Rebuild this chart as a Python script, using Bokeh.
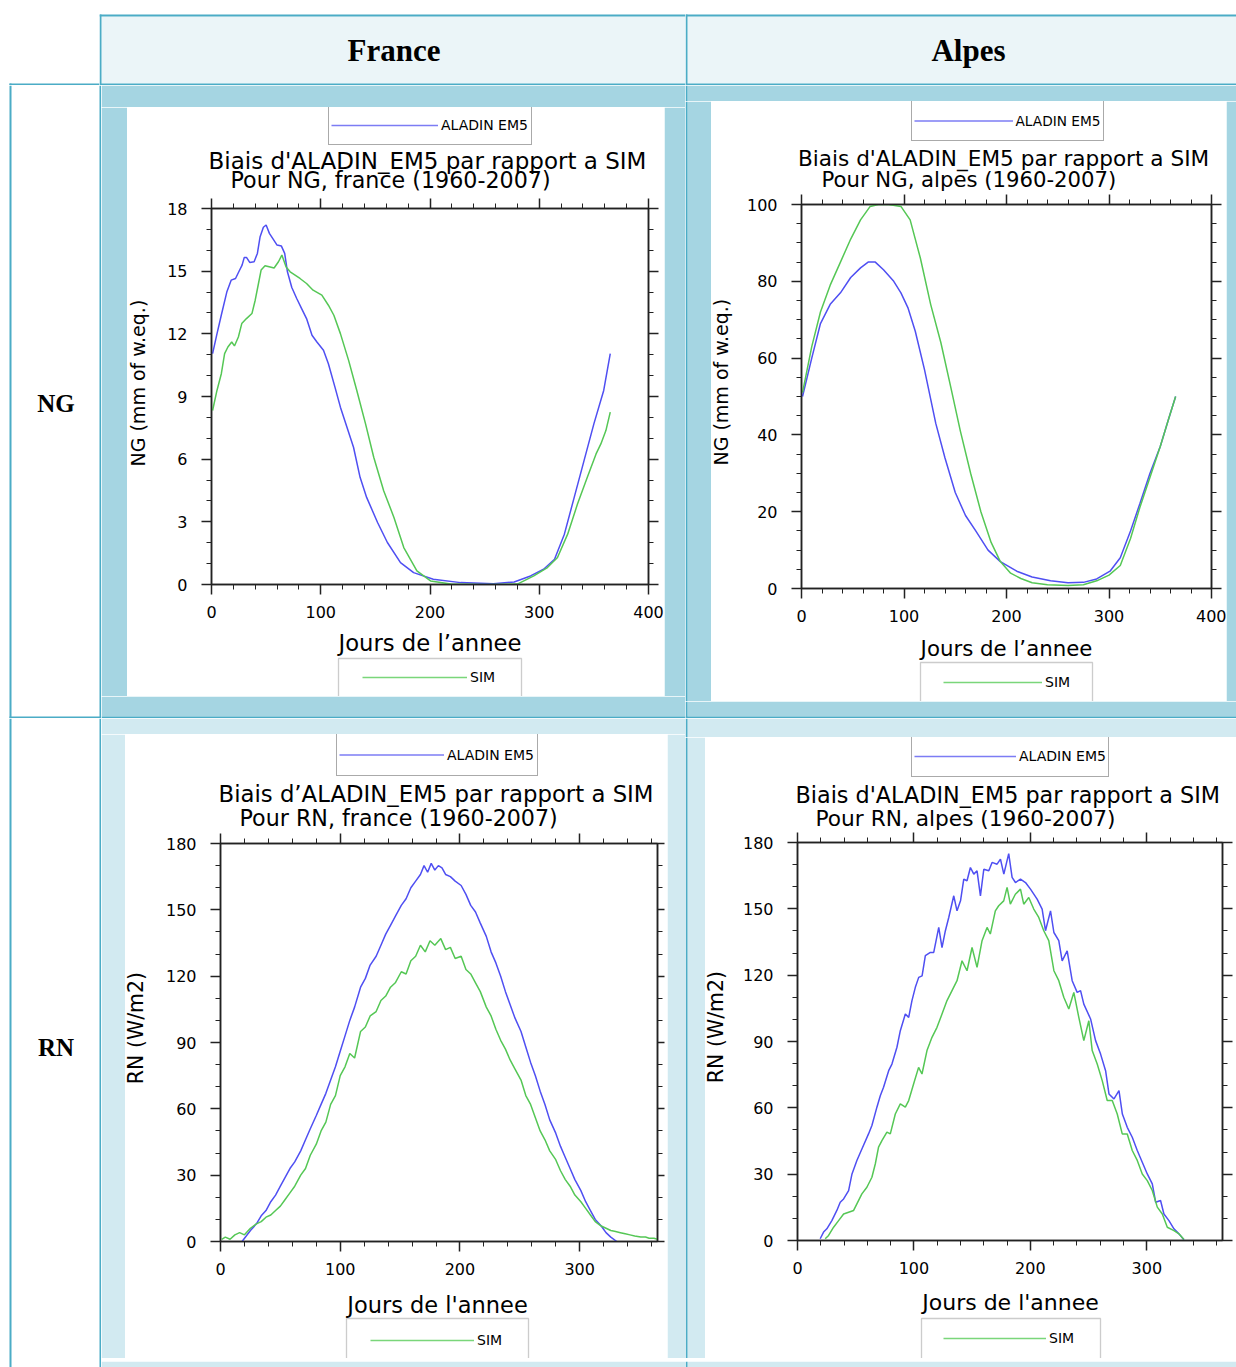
import math
from bokeh.plotting import figure
from bokeh.layouts import row, column
from bokeh.models import Range1d, LinearAxis, FixedTicker, Legend, LegendItem, BoxAnnotation
from bokeh.core.properties import value
from bokeh.embed import file_html
from bokeh.resources import INLINE
from bokeh.core.validation import silence
from bokeh.core.validation.warnings import MISSING_RENDERERS

silence(MISSING_RENDERERS, True)

# ---------------- data ----------------
COL_NAMES = ["France", "Alpes"]
ROW_NAMES = ["NG", "RN"]
SERIES = ["ALADIN EM5", "SIM"]

NG_TICKS = [0, 3, 6, 9, 12, 15, 18]
NGA_TICKS = [0, 20, 40, 60, 80, 100]
RN_TICKS = [0, 30, 60, 90, 120, 150, 180]
DAY_TICKS_400 = [0, 100, 200, 300, 400]
DAY_TICKS_365 = [0, 100, 200, 300]

# NG France
NGF_DAY_ALADIN = [1, 5, 9, 14, 18, 22, 25, 28, 30, 32, 35, 39, 42, 44.5, 47.5, 50, 53, 56, 60, 64, 67, 69.5, 73.5, 78,
                  82.5, 87, 92, 96.5, 102.5, 107, 113, 118, 124, 130, 136, 142, 152, 161, 173, 185, 203, 228, 258,
                  277, 292, 304, 314, 323, 332, 341, 350, 359, 365]
NGF_VAL_ALADIN = [11.05, 12.0, 12.9, 14.0, 14.57, 14.65, 14.97, 15.29, 15.66, 15.66, 15.42, 15.45, 15.85, 16.65, 17.1,
                  17.21, 16.81, 16.57, 16.25, 16.2, 15.85, 14.97, 14.22, 13.69, 13.21, 12.73, 11.93, 11.61, 11.21,
                  10.57, 9.45, 8.49, 7.53, 6.57, 5.13, 4.17, 2.97, 2.01, 1.05, 0.57, 0.25, 0.09, 0.04, 0.12, 0.41,
                  0.73, 1.21, 2.41, 4.17, 5.93, 7.69, 9.29, 11.05]
NGF_DAY_SIM = [1, 5, 9, 12, 15, 18.5, 21, 24.6, 27.7, 32, 37, 40, 43, 45.4, 49, 53.7, 57.3, 61.3, 64.4, 68.3, 72, 81,
               87, 93, 101, 107, 112, 118, 125.5, 133, 141, 148.5, 157.6, 167, 176, 188, 200.5, 219, 249, 280, 295,
               307.5, 316.7, 326, 335, 344, 352, 356.4, 361, 365]
NGF_VAL_SIM = [8.33, 9.29, 10.09, 11.05, 11.37, 11.61, 11.42, 11.85, 12.49, 12.73, 12.97, 13.61, 14.41, 15.05, 15.26,
               15.2, 15.15, 15.45, 15.77, 15.2, 14.97, 14.65, 14.41, 14.09, 13.85, 13.37, 12.89, 12.01, 10.73, 9.29,
               7.69, 6.09, 4.49, 3.21, 1.77, 0.65, 0.17, 0.02, 0.0, 0.02, 0.41, 0.81, 1.29, 2.41, 3.85, 5.13, 6.25,
               6.73, 7.37, 8.25]

# NG Alpes
NGA_DAY_ALADIN = [1, 10, 18.5, 28, 38, 48, 57.6, 65, 72, 80, 90, 97, 104, 111, 120, 131, 140, 150, 160, 170, 182, 194,
                  210, 225, 243, 260, 275, 288, 301, 311, 321, 330, 340, 350, 358, 365]
NGA_VAL_ALADIN = [50, 60, 69, 74, 77, 81, 83.5, 85, 85, 83, 80, 77, 73, 67, 57, 43, 34, 25, 19, 15, 10, 7, 4.5, 3, 2,
                  1.5, 1.6, 2.5, 4.5, 8, 15, 22, 30, 37, 44, 50]
NGA_DAY_SIM = [1, 10, 18.5, 28, 38, 48, 57.6, 67, 75, 85, 97, 106, 116, 126, 136, 146, 155, 165, 175, 185, 194, 204,
               214, 225, 240, 260, 275, 288, 300, 311, 321, 330, 340, 350, 358, 365]
NGA_VAL_SIM = [51, 63, 72, 79, 85, 91, 96, 99.5, 100, 100, 99.5, 96, 86, 74, 64, 52, 41, 30, 20, 12, 7, 4, 2.6, 1.5,
               1, 0.8, 1, 2, 3.5, 6, 13, 21, 29, 37, 44, 50]

# RN France
RNF_DAY_ALADIN = [18, 25, 30, 34, 38, 42, 46, 50, 54, 58, 62, 67, 71, 75, 80, 84, 88, 92, 96, 100, 104, 108, 112, 117,
                  121, 125, 130, 134, 138, 142, 146, 151, 155, 159, 163, 167, 170, 173, 176, 179, 182, 185, 188,
                  192, 196, 201, 205, 209, 213, 217, 222, 226, 230, 234, 238, 242, 246, 251, 255, 259, 263, 267, 271,
                  275, 280, 284, 288, 292, 296, 301, 305, 309, 313, 318, 322, 326, 331]
RNF_VAL_ALADIN = [0, 5, 8, 11.6, 14, 18, 21, 25, 29, 33, 36, 41, 46, 51, 57, 62, 67, 73, 79, 86, 93, 100, 106, 115,
                  119, 125, 129, 134, 139, 143, 147, 152, 155, 160, 163, 166, 170, 167, 171, 168, 170, 169, 166,
                  165, 163, 161, 157, 152, 149, 144, 138, 131, 126, 120, 113, 107, 101, 95, 88, 81, 75, 68, 62, 55,
                  49, 43, 38, 33, 28, 23, 18, 14, 10, 7, 4, 2, 0]
RNF_DAY_SIM = [1, 4, 8, 12, 16, 20, 25, 30, 34, 38, 42, 46, 50, 54, 58, 62, 67, 71, 75, 80, 84, 88, 92, 96, 100, 104,
               108, 112, 117, 121, 125, 130, 134, 138, 142, 146, 151, 155, 159, 163, 167, 171, 175, 179, 184, 188,
               192, 196, 201, 205, 209, 213, 217, 222, 226, 230, 234, 238, 242, 246, 251, 255, 259, 263, 267, 271,
               275, 280, 284, 288, 292, 296, 301, 305, 309, 313, 318, 322, 326, 330, 334, 338, 342, 346, 351, 355,
               358, 362, 365]
RNF_VAL_SIM = [1, 2, 1, 3, 4, 3, 6, 8, 9, 11, 12, 14, 16, 19, 22, 25, 30, 33, 39, 44, 50, 54, 62, 66, 75, 79, 85, 83,
               95, 97, 102, 104, 109, 111, 115, 117, 122, 121, 127, 129, 134, 131, 136, 134, 137, 132, 133, 128, 129,
               123, 121, 117, 113, 106, 102, 96, 91, 87, 82, 78, 73, 66, 62, 56, 50, 46, 41, 37, 32, 28, 25, 21,
               18, 15, 12, 9, 7, 6, 5, 4.5, 4, 3.5, 3, 2.5, 2, 2, 1.5, 1.5, 1]

# RN Alpes
RNA_DAY_ALADIN = [19.5, 22.4, 25.2, 29.5, 33.8, 36.7, 39.6, 43.9, 46.8, 51, 55.3, 61, 63.9, 68.2, 71.1, 73.9, 78.3,
                  81.1, 85.4, 88.3, 92.6, 95.5, 98.3, 101.2, 104.1, 107, 109.8, 114.1, 117, 121.3, 124.1, 127, 129.9,
                  134.2, 137, 140, 142.8, 145.6, 148.5, 151.4, 154.2, 157.1, 160, 164.3, 167.1, 171.4, 174.3, 177.2,
                  181.4, 184.3, 187.2, 191.5, 195.8, 200.1, 205.8, 210.1, 213, 217.3, 220.2, 224.4, 227.3, 231.6,
                  235.9, 240.2, 243.1, 245.9, 251.7, 256, 260.3, 264.6, 267.5, 271.8, 276.1, 279, 283.2, 287.5, 291.8,
                  296.1, 300.4, 304.7, 307.6, 311.8, 314.7, 319, 323.3, 327.6, 331.9]
RNA_VAL_ALADIN = [0.8, 3.8, 5.3, 9.0, 13.6, 17.3, 18.8, 22.6, 30.1, 36.2, 41.4, 48.2, 52, 60.3, 65.5, 69.3, 76.8, 79.8,
                  87.4, 94.9, 102.4, 100.9, 108.5, 114.5, 119, 119.7, 128.8, 130.3, 130.3, 141.6, 132.5, 140.1, 146.1,
                  155.9, 149.1, 153.6, 163.4, 162.7, 168.7, 165.7, 167.2, 155.9, 167.9, 167.2, 171, 170.2, 172.5,
                  165.7, 175, 164.2, 161.9, 163.4, 161.9, 158.9, 154.4, 149.9, 140.1, 149.1, 139.3, 135.6, 126.5, 131,
                  117.5, 112.2, 113, 106.9, 100.2, 90.4, 84.3, 76.8, 66.3, 64, 67.8, 57.2, 51.2, 46.7, 40.7, 35.4,
                  30.1, 25.6, 17.3, 18.1, 12, 9, 5.3, 3, 0.3]
RNA_DAY_SIM = [23.8, 26.7, 31, 35.3, 39.6, 43.9, 48.2, 51, 55.3, 59.6, 63.9, 66.8, 69.6, 72.5, 76.8, 79.7, 84, 88.3,
               92.6, 95.5, 99.7, 104, 106.9, 111.2, 115.5, 119.8, 124.1, 128.4, 132.7, 137, 141.3, 145.6, 149.9, 154.2,
               158.5, 162.8, 165.6, 169.9, 172.8, 177.1, 180, 182.8, 187.1, 191.5, 194.3, 198.6, 202.9, 207.2, 211.5,
               215.8, 220.2, 224.4, 228.7, 233, 237.3, 241.6, 245.9, 250.2, 253.1, 257.4, 261.7, 266, 270.3, 274.6,
               278.9, 283.2, 287.5, 291.8, 296.1, 300.4, 304.7, 309, 313.3, 317.6, 323.3, 327.6, 331.9]
RNA_VAL_SIM = [0.8, 2.3, 6, 9, 12, 12.8, 13.6, 16.6, 21.1, 24.1, 28.6, 34.6, 42.2, 45.2, 49, 48.2, 57.2, 61.8, 60.3,
               63.3, 70.8, 78.3, 75.3, 85.9, 91.9, 96.4, 102.4, 108.5, 113, 117.5, 126.5, 122, 132.5, 123.5, 135.6,
               141.6, 138.6, 149.1, 151.4, 153.6, 159.7, 152.1, 156.6, 158.9, 152.1, 155.1, 149.9, 146.1, 140.1,
               135.6, 122, 117.5, 110, 104.7, 112.2, 100.9, 90.4, 99.4, 85.9, 79.8, 72.3, 63.3, 63.3, 57.2, 48.2,
               48.2, 40.7, 36.2, 30.1, 27.1, 22.6, 15.1, 12, 6, 4.5, 3, 0.5]

# ---------------- style ----------------
TEAL = "#4bacc6"
HEAD_FILL = "#ebf5f8"
NG_FILL = "#a5d5e2"
RN_FILL = "#d2eaf1"
BLUE = "#4f4ff2"
GREEN = "#55c755"
LEG_BLUE = "#7c7cf4"
LEG_GREEN = "#7ad67a"
AXC = "#222222"
SANS = "DejaVu Sans"
SERIF = "Liberation Serif"
NAN = float("nan")

# table geometry (page pixels)
FILLS = [((101, 16, 685, 83), HEAD_FILL), ((687, 16, 1236, 83), HEAD_FILL),
         ((101, 85, 685, 716), NG_FILL), ((687, 85, 1236, 716), NG_FILL),
         ((101, 718, 685, 1367), RN_FILL), ((687, 718, 1236, 1367), RN_FILL)]
BORDERS = [(99, 14, 1236, 16), (9, 83, 1236, 85), (9, 716, 1236, 718),
           (9, 83, 11, 1367), (99, 14, 101, 1367), (685, 14, 687, 1367)]


def canvas(w, h, color="white"):
    p = figure(width=w, height=h, x_range=Range1d(0, w), y_range=Range1d(0, h), toolbar_location=None,
               output_backend="svg", x_axis_location=None, y_axis_location=None, min_border=0,
               outline_line_color=None, background_fill_color=color, border_fill_color=color)
    p.grid.visible = False
    return p


def tile(x0, y0, w, h, texts=()):
    p = canvas(w, h, "white")

    def draw(rects, color):
        L, R, T, B = [], [], [], []
        for (a, b, c, d) in rects:
            a2, b2, c2, d2 = max(a, x0), max(b, y0), min(c, x0 + w), min(d, y0 + h)
            if a2 < c2 and b2 < d2:
                L.append(a2 - x0)
                R.append(c2 - x0)
                T.append(h - (b2 - y0))
                B.append(h - (d2 - y0))
        if L:
            p.quad(left=L, right=R, top=T, bottom=B, fill_color=color, line_color=None)

    for rect, color in FILLS:
        draw([rect], color)
    draw(BORDERS, TEAL)
    for (txt, cx, cy, size) in texts:
        p.text(x=[cx - x0], y=[h - (cy - y0)], text=[txt], text_font=value(SERIF), text_font_style="bold",
               text_font_size=f"{size}px", text_align="center", text_baseline="middle", text_color="black")
    return p


def style_axis(ax, labels=True, standoff=11, tick_out=10):
    ax.axis_line_color = AXC
    ax.axis_line_width = 1.5
    ax.major_tick_line_color = AXC
    ax.major_tick_line_width = 1.5
    ax.minor_tick_line_color = AXC
    ax.minor_tick_line_width = 1
    ax.major_tick_out = tick_out
    ax.major_tick_in = 0
    ax.minor_tick_out = min(5, tick_out)
    ax.minor_tick_in = 0
    if labels:
        ax.major_label_text_font = SANS
        ax.major_label_text_font_size = "16px"
        ax.major_label_text_color = "black"
        ax.major_label_standoff = standoff
    else:
        ax.major_label_text_font_size = "1px"
        ax.major_label_text_color = None
        ax.major_label_standoff = 0


def legend_box(fig, label, color, loc, glyph_w, label_w, item_h, padding, border, fsize):
    # legend sample renderer: a single missing point, so nothing is drawn in the plot itself
    sample = fig.line(x=[NAN], y=[NAN], line_color=color, line_width=1.3)
    leg = Legend(items=[LegendItem(label=label, renderers=[sample])], location=loc,
                 glyph_width=glyph_w, glyph_height=item_h, label_height=item_h, label_width=label_w,
                 label_standoff=3, padding=padding, spacing=0, margin=0,
                 border_line_color="#555555" if border else None, border_line_width=1.3,
                 background_fill_color="white", background_fill_alpha=1.0 if border else 0.0,
                 label_text_font=SANS, label_text_font_size=f"{fsize}px", label_text_color="black")
    fig.add_layout(leg, "center")


def panel(cfg, xa, ya, xs, ys):
    px, py, pw, ph = cfg["panel"]
    hb, ftp, ylr = cfg["header_bottom"], cfg["footer_top"], cfg["ylab_right"]
    fl, fto, fr, fb = cfg["frame"]

    # ----- header: legend box + two-line title -----
    hh = hb - py
    hdr = canvas(pw, hh)
    bl, bt, br, bb, gw, lw, lfs = cfg["leg_top"]
    legend_box(hdr, SERIES[0], LEG_BLUE, (bl - px, hh - (bb - py)), gw, lw, (bb - bt) - 4, 2, True, lfs)
    (t1x, t1y, t1s), (t2x, t2y, t2s) = cfg["title_pos"]
    hdr.text(x=[t1x - px], y=[hh - (t1y - py)], text=[cfg["title1"]], text_font=value(SANS),
             text_font_size=f"{t1s}px", text_align="left", text_baseline="middle", text_color="black")
    hdr.text(x=[t2x - px], y=[hh - (t2y - py)], text=[cfg["title2"]], text_font=value(SANS),
             text_font_size=f"{t2s}px", text_align="left", text_baseline="middle", text_color="black")

    # ----- y label strip -----
    mh = ftp - hb
    yw = ylr - px
    ylf = canvas(yw, mh)
    ycx, ycy, ysz = cfg["ylab_center"]
    ylf.text(x=[ycx - px], y=[mh - (ycy - hb)], text=[cfg["ylabel"]], angle=math.pi / 2,
             text_font=value(SANS), text_font_size=f"{ysz}px", text_align="center", text_baseline="middle",
             text_color="black")

    # ----- chart -----
    cw = pw - yw
    p = figure(width=cw, height=mh, toolbar_location=None, output_backend="svg",
               x_range=Range1d(0, cfg["xmax"]), y_range=Range1d(0, cfg["ymax"]),
               x_axis_location=None, y_axis_location=None,
               min_border_left=fl - ylr, min_border_right=px + pw - fr,
               min_border_top=fto - hb, min_border_bottom=ftp - fb,
               border_fill_color="white", background_fill_color="white",
               outline_line_color=AXC, outline_line_width=1.5)
    p.grid.visible = False
    xt, xminor = cfg["xticks"], cfg["xminor"]
    yt, yminor = cfg["yticks"], cfg["yminor"]
    bx = LinearAxis(ticker=FixedTicker(ticks=xt, minor_ticks=xminor))
    style_axis(bx, standoff=11)
    p.add_layout(bx, "below")
    ly = LinearAxis(ticker=FixedTicker(ticks=yt, minor_ticks=yminor))
    style_axis(ly, standoff=14)
    p.add_layout(ly, "left")
    tx = LinearAxis(ticker=FixedTicker(ticks=xt, minor_ticks=xminor))
    style_axis(tx, labels=False)
    p.add_layout(tx, "above")
    ry = LinearAxis(ticker=FixedTicker(ticks=yt, minor_ticks=yminor))
    style_axis(ry, labels=False, tick_out=cfg.get("rtick", 10))
    p.add_layout(ry, "right")
    p.line(xa, ya, line_color=BLUE, line_width=1.5)
    p.line(xs, ys, line_color=GREEN, line_width=1.5)

    # ----- footer: x label + SIM legend -----
    fh = py + ph - ftp
    ftr = canvas(pw, fh)
    xcx, xcy, xsize = cfg["xlab_pos"]
    ftr.text(x=[xcx - px], y=[fh - (xcy - ftp)], text=[cfg["xlabel"]], text_font=value(SANS),
             text_font_size=f"{xsize}px", text_align="center", text_baseline="middle", text_color="black")
    bl, bt, br, lx, ly_, gw = cfg["leg_bot"]
    ftr.add_layout(BoxAnnotation(left=bl - px, right=br - px, top=fh - (bt - ftp), bottom=-20,
                                 fill_color="white", fill_alpha=1.0, line_color="#555555", line_width=1.3))
    legend_box(ftr, SERIES[1], LEG_GREEN, (lx - px, fh - (ly_ - ftp) - 17), gw, 20, 34, 0, False, 14)

    return column([hdr, row([ylf, p], spacing=0), ftr], spacing=0)


minor20_400 = list(range(0, 401, 20))
minor20_365 = list(range(0, 361, 20))

CFG_NGF = dict(panel=(127, 107, 537, 589), header_bottom=194, footer_top=629, ylab_right=160,
               frame=(211, 208, 648, 584), xmax=400, ymax=18,
               xticks=DAY_TICKS_400, xminor=minor20_400, yticks=NG_TICKS, yminor=list(range(0, 19)),
               xlabel="Jours de l\u2019annee", ylabel="NG (mm of w.eq.)",
               xlab_pos=(429.5, 642.5, 22.7), ylab_center=(137, 396, 19),
               title1="Biais d'ALADIN_EM5 par rapport a SIM", title2="Pour NG, france (1960-2007)",
               title_pos=((208, 160.2, 23), (230, 179.8, 22.2)),
               leg_top=(328, 107, 531, 145, 107, 88, 14), leg_bot=(338, 658, 521, 362, 677, 105))
CFG_NGA = dict(panel=(711, 101, 515, 600), header_bottom=192, footer_top=633, ylab_right=738,
               frame=(801, 204, 1211, 588), xmax=400, ymax=100,
               xticks=DAY_TICKS_400, xminor=minor20_400, yticks=NGA_TICKS, yminor=list(range(0, 101, 5)),
               xlabel="Jours de l\u2019annee", ylabel="NG (mm of w.eq.)",
               xlab_pos=(1006, 647.5, 21.3), ylab_center=(720, 396, 19),
               title1="Biais d'ALADIN_EM5 par rapport a SIM", title2="Pour NG, alpes (1960-2007)",
               title_pos=((797.5, 157.5, 21.6), (821, 178.5, 21.2)),
               leg_top=(910.5, 102, 1101.5, 141, 99, 85, 13.7), leg_bot=(920, 662, 1092, 943, 682, 99))
CFG_RNF = dict(panel=(125, 734, 542, 624), header_bottom=831, footer_top=1286, ylab_right=158,
               frame=(220, 843, 657, 1241), xmax=365, ymax=180, rtick=7,
               xticks=DAY_TICKS_365, xminor=minor20_365, yticks=RN_TICKS, yminor=list(range(0, 181, 10)),
               xlabel="Jours de l'annee", ylabel="RN (W/m2)",
               xlab_pos=(437, 1304.4, 22.5), ylab_center=(135, 1042, 20.5),
               title1="Biais d\u2019ALADIN_EM5 par rapport a SIM", title2="Pour RN, france (1960-2007)",
               title_pos=((218, 793, 22.8), (239, 817.5, 22.2)),
               leg_top=(336, 735, 537, 776, 105, 88, 14), leg_bot=(346, 1318, 528, 370, 1340, 104))
CFG_RNA = dict(panel=(705, 737, 531, 621), header_bottom=830, footer_top=1285, ylab_right=732,
               frame=(797, 842, 1222, 1240), xmax=365, ymax=180,
               xticks=DAY_TICKS_365, xminor=minor20_365, yticks=RN_TICKS, yminor=list(range(0, 181, 10)),
               xlabel="Jours de l'annee", ylabel="RN (W/m2)",
               xlab_pos=(1010, 1302, 22), ylab_center=(715, 1041, 20.5),
               title1="Biais d'ALADIN_EM5 par rapport a SIM", title2="Pour RN, alpes (1960-2007)",
               title_pos=((795, 794, 22.3), (815, 818, 21.7)),
               leg_top=(911, 737, 1108, 777, 102, 86, 14), leg_bot=(921, 1318, 1100, 943, 1338, 103))

P_NGF = panel(CFG_NGF, NGF_DAY_ALADIN, NGF_VAL_ALADIN, NGF_DAY_SIM, NGF_VAL_SIM)
P_NGA = panel(CFG_NGA, NGA_DAY_ALADIN, NGA_VAL_ALADIN, NGA_DAY_SIM, NGA_VAL_SIM)
P_RNF = panel(CFG_RNF, RNF_DAY_ALADIN, RNF_VAL_ALADIN, RNF_DAY_SIM, RNF_VAL_SIM)
P_RNA = panel(CFG_RNA, RNA_DAY_ALADIN, RNA_VAL_ALADIN, RNA_DAY_SIM, RNA_VAL_SIM)

top_row = row([tile(0, 0, 99, 85),
               tile(99, 0, 586, 85, [(COL_NAMES[0], 393.5, 50.4, 31)]),
               tile(685, 0, 551, 85, [(COL_NAMES[1], 968, 50.4, 31)])], spacing=0)

ng_left = tile(0, 85, 101, 633, [(ROW_NAMES[0], 55.5, 402.5, 25)])
ng_fr = column([tile(101, 85, 584, 22),
                row([tile(101, 107, 26, 589), P_NGF, tile(664, 107, 21, 589)], spacing=0),
                tile(101, 696, 584, 22)], spacing=0)
ng_al = column([tile(685, 85, 551, 16),
                row([tile(685, 101, 26, 600), P_NGA, tile(1226, 101, 10, 600)], spacing=0),
                tile(685, 701, 551, 17)], spacing=0)
ng_row = row([ng_left, ng_fr, ng_al], spacing=0)

rn_left = tile(0, 718, 101, 649, [(ROW_NAMES[1], 55.5, 1047, 25)])
rn_fr = column([tile(101, 718, 584, 16),
                row([tile(101, 734, 24, 624), P_RNF, tile(667, 734, 18, 624)], spacing=0),
                tile(101, 1358, 584, 9)], spacing=0)
rn_al = column([tile(685, 718, 551, 19),
                row([tile(685, 737, 20, 621), P_RNA], spacing=0),
                tile(685, 1358, 551, 9)], spacing=0)
rn_row = row([rn_left, rn_fr, rn_al], spacing=0)

page = column([top_row, ng_row, rn_row], spacing=0)

with open("out.html", "w") as fh_:
    fh_.write(file_html(page, INLINE, title="Biais ALADIN EM5"))
